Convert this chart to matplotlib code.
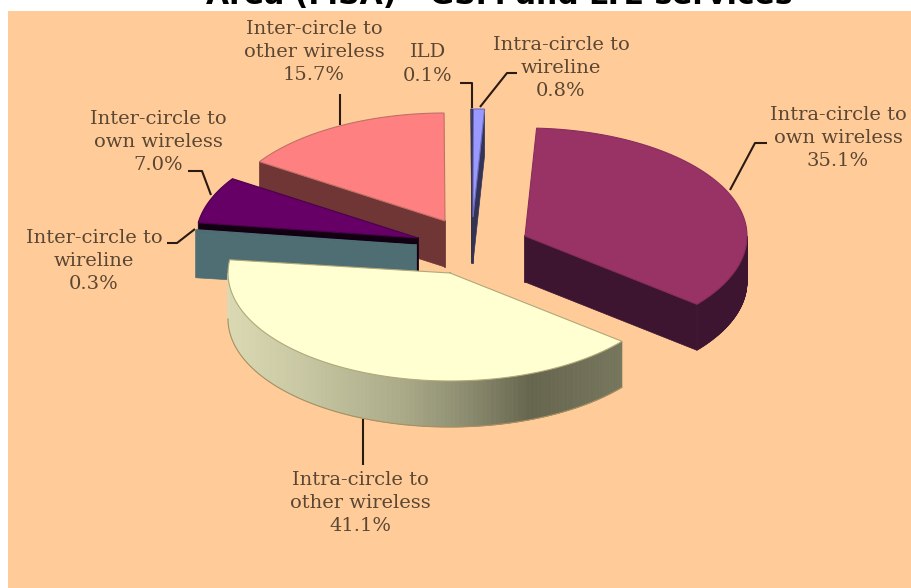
import numpy as np
import matplotlib
matplotlib.use("Agg")
import matplotlib.pyplot as plt
from matplotlib.patches import Polygon, Rectangle
from matplotlib.collections import PolyCollection
from matplotlib.colors import to_rgb

# data
categories = ["Intra-circle to\nown wireless", "Intra-circle to\nother wireless",
              "Inter-circle to\nwireline", "Inter-circle to\nown wireless",
              "Inter-circle to\nother wireless", "ILD", "Intra-circle to\nwireline"]
values = [35.1, 41.1, 0.3, 7.0, 15.7, 0.1, 0.8]
title = "Area (MSA) - GSM and LTE services"

# layout / style
W, H = 912, 588
RX, RY, DEPTH = 222, 108, 46
START = 3.0
apex = [(525, 236), (450, 273), (416, 245), (418, 238), (445, 221), (472, 217), (473, 217)]
top_col = ["#993366", "#FFFFD2", "#4E6E73", "#660066", "#FF8080", "#8080C0", "#9999FF"]
side_col = ["#3E1530", "#8A8A6E", "#4E6E73", "#120012", "#703535", "#333344", "#333355"]
edge_col = ["#8A2C5C", "#B0A878", "#4E6E73", "#4B004B", "#C07068", "#333355", "#6A6AC0"]
label_pos = [(838, 138), (360, 503), (94, 261), (158, 142), (314, 52), (428, 64), (561, 68)]
leaders = [[(730, 190), (755, 143), (767, 143)], [(363, 419), (363, 465)],
           [(195, 229), (177, 243), (167, 243)], [(211, 195), (202, 171), (188, 171)],
           [(340, 125), (340, 94)], [(472, 108), (472, 83), (460, 83)],
           [(480, 107), (507, 73), (517, 73)]]
draw_order = [5, 6, 4, 3, 2, 0, 1]
shade_x = [228, 300, 400, 470, 530, 623]
shade_r = ["#DADAB4", "#C8C8A4", "#ABAB8A", "#8A8A6E", "#66664F", "#77775E"]

fractions = np.array(values) / np.sum(values) * 360
ends = START + np.cumsum(fractions)
starts = ends - fractions


def rim(center, a, b, n=80):
    t = np.radians(np.linspace(a, b, n))
    return np.column_stack([center[0] + RX * np.sin(t), center[1] - RY * np.cos(t)])


fig = plt.figure(figsize=(W / 100, H / 100), dpi=100, facecolor="white")
ax = fig.add_axes([0, 0, 1, 1])
ax.set_xlim(0, W)
ax.set_ylim(H, 0)
ax.axis("off")
ax.add_patch(Rectangle((8, 11), W - 8, H - 11, fc="#FFCC99", ec="none", zorder=0))

shade_rgb = np.array([to_rgb(c) for c in shade_r])
z = 1
for i in draw_order:
    c = apex[i]
    a, b = starts[i], ends[i]
    for ang in (a, b):
        p = rim(c, ang, ang, 1)[0]
        faces = (ang == a and 180 < (a % 360) < 360) or (ang == b and 0 < (b % 360) < 180)
        if faces:
            pts = [c, p, (p[0], p[1] + DEPTH), (c[0], c[1] + DEPTH)]
            ax.add_patch(Polygon(pts, fc=side_col[i], ec=side_col[i], lw=0.5, zorder=z))
    ax.plot([c[0], c[0]], [c[1], c[1] + DEPTH], color=side_col[i], lw=1.2, zorder=z)
    lo, hi = max(a, 90), min(b, 270)
    if lo < hi:
        edges = np.linspace(lo, hi, 120)
        strips, cols = [], []
        base = np.array(to_rgb(side_col[i]))
        for k in range(len(edges) - 1):
            q = rim(c, edges[k], edges[k + 1], 2)
            strips.append([q[0], q[1], q[1] + [0, DEPTH], q[0] + [0, DEPTH]])
            if i == 1:
                xm = q[:, 0].mean()
                cols.append([np.interp(xm, shade_x, shade_rgb[:, n]) for n in range(3)])
            else:
                cols.append(base)
        ax.add_collection(PolyCollection(strips, facecolors=cols, edgecolors=cols, lw=0.5, zorder=z))
        if i == 1:
            q = rim(c, lo, hi)
            ax.plot(q[:, 0], q[:, 1] + DEPTH, color="#A88F60", lw=0.8, zorder=z)
    top = np.vstack([[c], rim(c, a, b)])
    ax.add_patch(Polygon(top, fc=top_col[i], ec=edge_col[i], lw=0.8, zorder=z + 0.5))
    z += 1

for pts in leaders:
    xs, ys = zip(*pts)
    ax.plot(xs, ys, color="#2A1A12", lw=1.5, zorder=20, solid_capstyle="butt")

for name, val, pos in zip(categories, values, label_pos):
    ax.text(pos[0], pos[1], f"{name}\n{val:.1f}%", ha="center", va="center",
            fontsize=14, family="DejaVu Serif", color="#5A4632", linespacing=1.36, zorder=21)

ax.text(499.5, 4, title, ha="center", va="baseline", fontsize=21.5, fontweight="bold",
        family="DejaVu Sans", color="black", zorder=21)
fig.savefig("out.png", dpi=100)
